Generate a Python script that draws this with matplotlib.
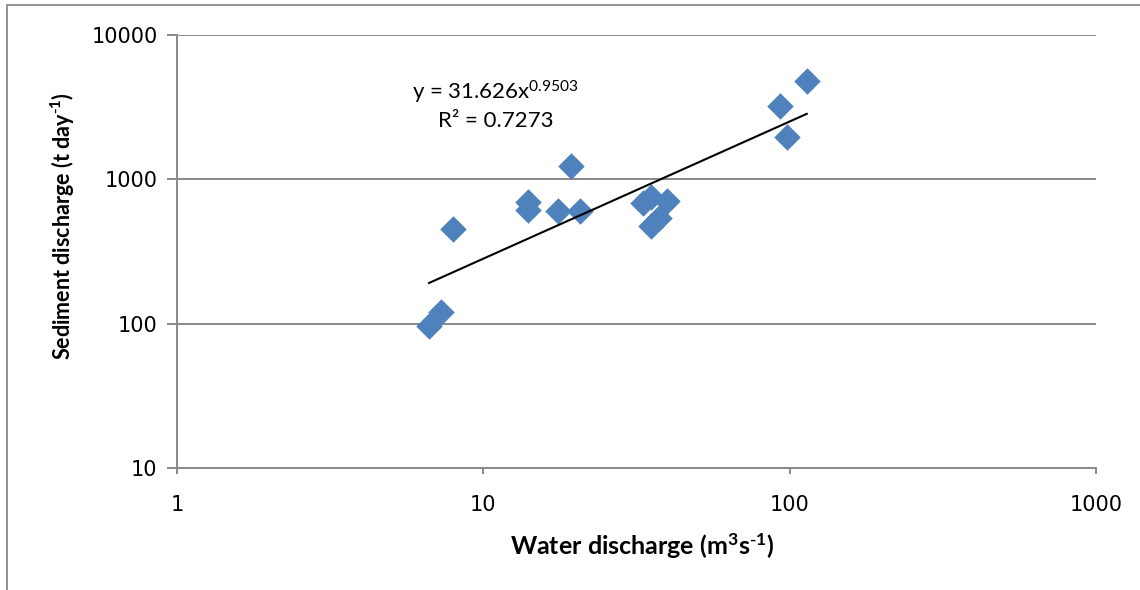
import numpy as np
import matplotlib
matplotlib.use('Agg')
import matplotlib.pyplot as plt
from matplotlib.patches import Rectangle

# water discharge (m3/s) and sediment discharge (t/day)
water_q = [6.65, 7.3, 7.96, 14.0, 14.0, 17.5, 20.7, 19.3,
           33.2, 35.3, 39.8, 35.3, 37.5, 93.0, 98.3, 113.7]
sediment_q = [96, 120, 453, 697, 614, 604, 604, 1239,
              686, 755, 708, 475, 540, 3229, 1959, 4831]

# power trendline coefficients shown on the chart
coef_a = 31.626
coef_b = 0.9503
r2 = 0.7273

x_ticks = [1, 10, 100, 1000]
y_ticks = [10, 100, 1000, 10000]

### General style options
plt.rcParams['font.family'] = 'DejaVu Sans'
plt.rcParams['mathtext.default'] = 'regular'
grid_col = '#898989'
blue = '#4F81BD'

fig = plt.figure(figsize=(11.4, 5.9), dpi=100)
ax = fig.add_axes([177/1140, 1 - 468/590, (1096 - 177)/1140, (468 - 35)/590])

# outer chart frame (cropped at right and bottom)
fig.patches.append(Rectangle((7/1140, -0.1), 1.2, 1.1 - 5/590, transform=fig.transFigure,
                             fill=False, edgecolor=grid_col, linewidth=1.3))

ax.scatter(water_q, sediment_q, marker='D', s=13.5**2, color=blue, linewidths=0, zorder=3)

# trendline over the data range
xmin, xmax = min(water_q), max(water_q)
tx = np.array([xmin, xmax])
ax.plot(tx, coef_a * tx**coef_b, color='black', linewidth=1.5, zorder=4)

ax.set_xscale('log')
ax.set_yscale('log')
ax.set_xlim(1, 1000)
ax.set_ylim(10, 10000)
ax.set_xticks(x_ticks)
ax.set_xticklabels([str(v) for v in x_ticks])
ax.set_yticks(y_ticks)
ax.set_yticklabels([str(v) for v in y_ticks])
ax.minorticks_off()

ax.grid(True, axis='y', color=grid_col, linewidth=1.4)
ax.set_axisbelow(True)
for s in ['top', 'right']:
    ax.spines[s].set_visible(False)
for s in ['left', 'bottom']:
    ax.spines[s].set_color(grid_col)
    ax.spines[s].set_linewidth(1.4)
ax.tick_params(axis='both', colors=grid_col, width=1.4, labelcolor='black', labelsize=15)
ax.tick_params(axis='y', length=7, pad=7)
ax.tick_params(axis='x', length=4.5, pad=15)

# axis titles
fig.text(642/1140, 1 - 546/590, r'Water discharge (m$^{3}$s$^{\text{-}1}$)', fontsize=18,
         fontweight='bold', family='Lato', ha='center', va='center')
fig.text(63/1140, 1 - 226/590, r'Sediment discharge (t day$^{\text{-}1}$)', fontsize=15.5,
         fontweight='bold', family='Lato', ha='center', va='center', rotation=90)

# trendline equation
fig.text(495/1140, 1 - 92/590, 'y = %.3fx$^{%.4f}$' % (coef_a, coef_b),
         ha='center', va='center', fontsize=16, family='Lato')
fig.text(496/1140, 1 - 121/590, 'R² = %.4f' % r2,
         ha='center', va='center', fontsize=16, family='Lato')

plt.savefig('out.png', dpi=100)
